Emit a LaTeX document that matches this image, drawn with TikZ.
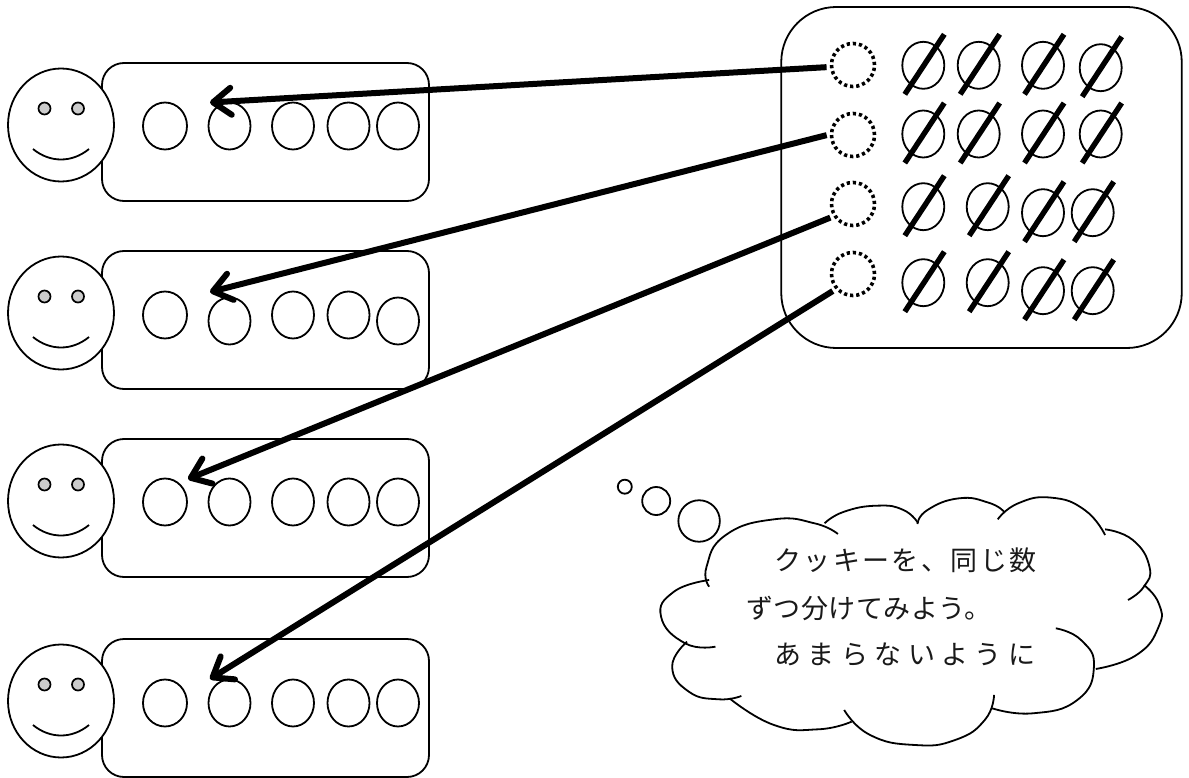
\documentclass[tikz,border=0pt]{standalone}
\usepackage{fontspec}
\usetikzlibrary{shapes.geometric,arrows.meta}
\newfontfamily\jpa[LetterSpace=9]{Noto Sans CJK JP}
\newfontfamily\jpb[LetterSpace=2]{Noto Sans CJK JP}
\newfontfamily\jpc[LetterSpace=24]{Noto Sans CJK JP}
\tikzset{
  ln/.style={line width=1.8pt,black},
  oval/.style={ln,draw,fill=white,shape=ellipse,inner sep=0pt,outer sep=0pt,minimum width=#1},
  oval/.default=42pt,
  cookie/.style={oval=42pt,minimum height=47pt},
  dotcookie/.style={draw,shape=circle,inner sep=0pt,outer sep=0pt,minimum size=43pt,line width=3.6pt,dash pattern=on 3.2pt off 2.94pt},
  plate/.style={ln,draw,shape=rectangle,inner sep=0pt,outer sep=0pt,minimum width=327pt,minimum height=138pt,rounded corners=22pt},
  facehead/.style={oval=106pt,minimum height=113pt},
  eye/.style={oval=12pt,minimum height=12pt,fill=black!20,line width=1.7pt},
  slash/.style={line width=5.4pt},
  give/.style={line width=6pt,shorten <=5pt,-{Straight Barb[length=18pt,width=27pt,line cap=round,round]}},
  cloudline/.style={ln,smooth,tension=0.85},
  says/.style={anchor=west,inner sep=0pt,font=\fontsize{27pt}{27pt}\selectfont,text=black!90}
}
\begin{document}
\begin{tikzpicture}[x=1pt,y=-1pt]
\useasboundingbox (0,0) rectangle (1189,778);
\fill[white] (0,0) rectangle (1189,778);
% children
\foreach \r/\t/\ya/\yb in {1/63/63/63,2/251/64/70,3/439/63/63,4/639/64/64}{
  \node[plate] (plate\r) at (265.5,\t+69) {};
  \node[facehead] (face\r) at (61,\t+62) {};
  \node[eye] (eyeL\r) at (44.5,\t+45.5) {};
  \node[eye] (eyeR\r) at (78,\t+45.5) {};
  \draw[ln] (33,\t+86) .. controls (50,\t+100) and (72,\t+100) .. (89,\t+86);
  \node[cookie,minimum width=44pt] (a\r) at (165,\t+\ya) {};
  \node[cookie] (b\r) at (229.5,\t+\yb) {};
  \node[cookie] (c\r) at (293,\t+\ya) {};
  \node[cookie] (d\r) at (348.5,\t+\ya) {};
  \node[cookie] (e\r) at (398,\t+\yb) {};
}
% big plate
\node[ln,draw,shape=rectangle,inner sep=0pt,outer sep=0pt,minimum width=400.5pt,minimum height=341pt,rounded corners=55pt] (store) at (981.5,177.5) {};
\foreach \i/\y in {1/65,2/135,3/204,4/274}{
  \node[dotcookie] (s\i) at (853,\y) {};
}
\foreach \n/\x/\y in {
  p1/923.3/65.3,p2/978.7/65.3,p3/1043/65.3,p4/1100.7/67.7,
  p5/923.3/134,p6/978.7/134,p7/1043/134,p8/1100.7/134,
  p9/923.3/206.7,p10/987.7/206.7,p11/1043/212.7,p12/1092.7/212.7,
  p13/923.3/282.7,p14/987.7/282.7,p15/1043/290.7,p16/1092.7/290.7}{
  \node[cookie] (\n) at (\x,\y) {};
  \draw[slash] (\x-18.5,\y+29) -- (\x+21,\y-31);
}
% thought
\node[oval=14pt,minimum height=14pt] (bub1) at (624.8,486.7) {};
\node[oval=28pt,minimum height=28pt] (bub2) at (656.2,501) {};
\node[oval=41.5pt,minimum height=41.5pt] (bub3) at (699.1,521) {};
\begin{scope}[shift={(600,460)},x=0.37pt,y=-0.3333pt]
\draw[cloudline] plot coordinates {(295,380) (288,320) (340,225) (470,178) (580,190) (643,222)};
\draw[cloudline] plot coordinates {(607,190) (660,155) (750,137) (820,150) (860,190)};
\draw[cloudline] plot coordinates {(858,192) (885,150) (970,115) (1050,128) (1092,155)};
\draw[cloudline] plot coordinates {(1075,178) (1130,130) (1220,113) (1310,150) (1365,225)};
\draw[cloudline] plot coordinates {(1365,208) (1440,240) (1485,320) (1470,380) (1427,420)};
\draw[cloudline] plot coordinates {(1470,375) (1510,430) (1510,500) (1450,585) (1340,627)};
\draw[cloudline] plot coordinates {(1232,505) (1300,540) (1335,620) (1290,720) (1170,760) (1060,745)};
\draw[cloudline] plot coordinates {(1065,705) (1040,780) (960,840) (850,855) (730,825) (660,750)};
\draw[cloudline] plot coordinates {(680,785) (590,808) (470,795) (350,715)};
\draw[cloudline] plot coordinates {(382,708) (320,718) (240,695) (195,620) (235,545)};
\draw[cloudline] plot coordinates {(312,560) (230,550) (165,470) (200,395) (295,360)};
\end{scope}
\node[says] (l1) at (774,560) {\jpa クッキーを、同じ数};
\node[says] (l2) at (746,608) {\jpb ずつ分けてみよう。};
\node[says] (l3) at (774,655) {\jpc あまらないように};
% arrows
\coordinate (t1) at (210,102.5);
\coordinate (t2) at (210,292);
\coordinate (t3) at (188,479);
\coordinate (t4) at (210,679);
\draw[give] (s1.185) -- (t1);
\draw[give] (s2.177) -- (t2);
\draw[give] (s3.213) -- (t3);
\draw[give] (s4.222) -- (t4);
\end{tikzpicture}
\end{document}
